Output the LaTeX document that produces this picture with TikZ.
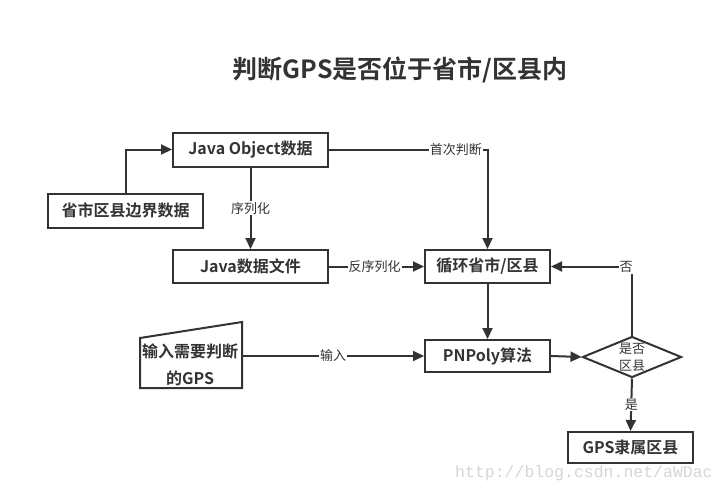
\documentclass[tikz,border=0pt]{standalone}
\usepackage{fontspec}
\setmainfont{Noto Sans CJK SC}
\newfontfamily\cjkbold{Noto Sans CJK SC Bold}
\newfontfamily\wmfont{Liberation Mono}
\usetikzlibrary{arrows.meta,shapes.geometric}
\definecolor{ln}{HTML}{333333}
\tikzset{
  procbox/.style={draw=ln, line width=2pt, minimum height=34pt, font=\cjkbold\fontsize{16}{18}\selectfont, text=ln, inner sep=0pt},
  conn/.style={draw=ln, line width=2pt, -{Triangle[length=11pt,width=10pt]}},
  plain/.style={draw=ln, line width=2pt},
  elabel/.style={fill=white, font=\fontsize{13}{15}\selectfont, text=ln, inner sep=1pt}
}
\begin{document}
\begin{tikzpicture}[x=1pt,y=-1pt]
\useasboundingbox[fill=white] (0,0) rectangle (727,495);
\node[font=\cjkbold\fontsize{25}{29}\selectfont, text=ln] (title) at (400,70) {判断GPS是否位于省市/区县内};

\node[procbox, minimum width=155pt] (jobj) at (250.5,149.5) {Java Object数据};
\node[procbox, minimum width=155pt] (border) at (125.5,210.5) {省市区县边界数据};
\node[procbox, minimum width=155pt, minimum height=33pt] (jfile) at (250.5,266.5) {Java数据文件};
\node[procbox, minimum width=125pt, minimum height=33pt] (loop) at (487.5,266.5) {循环省市/区县};
\node[procbox, minimum width=125pt, minimum height=32pt] (pnp) at (487.5,356) {PNPoly算法};
\node[procbox, minimum width=125pt, minimum height=31pt] (res) at (630.5,447.5) {GPS隶属区县};

% manual input shape
\coordinate (mi1) at (140,338);
\coordinate (mi2) at (242,322);
\coordinate (mi3) at (242,388);
\coordinate (mi4) at (140,388);
\draw[plain] (mi1) -- (mi2) -- (mi3) -- (mi4) -- cycle;
\node[font=\cjkbold\fontsize{16}{27}\selectfont, text=ln, align=center] (inp) at (190,365) {输入需要判断\\的GPS};
\coordinate (inpR) at (242,356);

% decision diamond
\node[diamond, draw=ln, line width=2pt, minimum width=99pt, minimum height=41pt, inner sep=0pt, aspect=2.4] (dec) at (632,357) {};
\node[font=\fontsize{13}{17}\selectfont, text=ln, align=center] (dectext) at (632,357) {是否\\区县};

% connectors
\draw[conn] (border.north) |- (jobj.west);
\draw[conn] (jobj.south) -- node[elabel] (l1) {序列化} (jfile.north);
\draw[conn] (jobj.east) -| node[elabel, pos=0.4] (l2) {首次判断} (loop.north);
\draw[conn] (jfile.east) -- node[elabel, pos=0.48] (l3) {反序列化} (loop.west);
\draw[conn] (loop.south) -- (pnp.north);
\draw[conn] (inpR) -- node[elabel, pos=0.5] (l4) {输入} (pnp.west);
\draw[conn] (pnp.east) -- (dec.west);
\draw[conn] (dec.north) |- (loop.east);
\node[elabel] (l5) at (626,267) {否};
\draw[conn] (dec.south) -- node[elabel, pos=0.5] (l6) {是} (res.north);

% watermark
\node[font=\wmfont\fontsize{16.5}{18}\selectfont, text=black!16, anchor=west, inner sep=0pt] (wm) at (455,473) {http://blog.csdn.net/aWDac};
\end{tikzpicture}
\end{document}
